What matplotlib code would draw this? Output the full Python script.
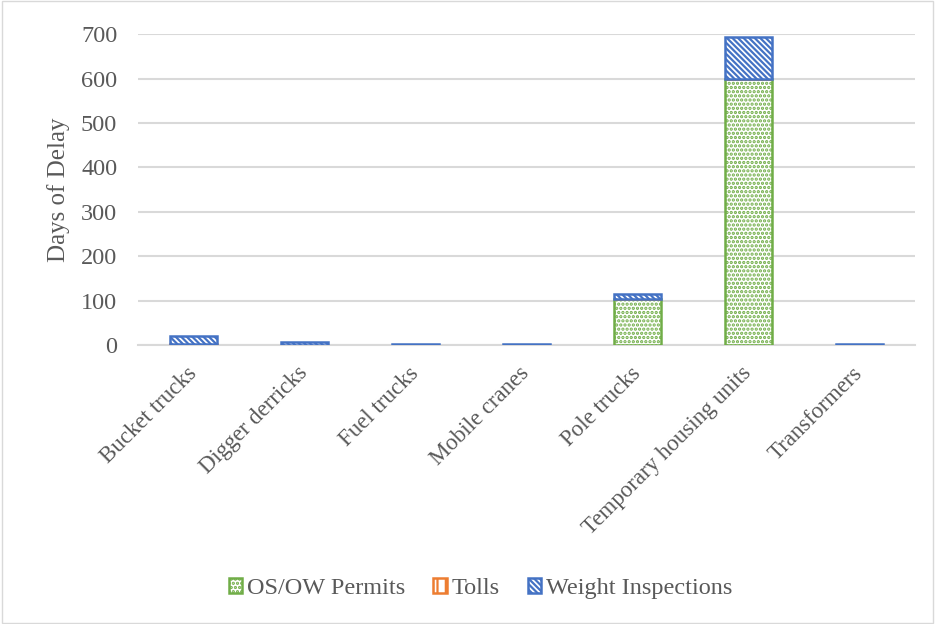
import matplotlib.pyplot as plt
import numpy as np

categories = ['Bucket trucks', 'Digger derricks', 'Fuel trucks', 'Mobile cranes',
              'Pole trucks', 'Temporary housing units', 'Transformers']
permits = [0, 0, 0, 0, 103, 600, 0]
tolls = [2, 1, 0, 0, 0, 0, 0]
weight = [18, 6, 2, 2, 13, 95, 3]

plt.rcParams['font.family'] = ['Liberation Serif', 'DejaVu Serif']
plt.rcParams['hatch.linewidth'] = 1.6
txt = '#595959'

fig = plt.figure(figsize=(9.35, 6.24), dpi=100)
ax = fig.add_axes([0.1476, 0.447, 0.831, 0.498])

x = np.arange(len(categories))
w = 0.42
permits = np.array(permits)
tolls = np.array(tolls)
weight = np.array(weight)

# stacked, hatched bars
ax.bar(x, permits, w, color='white', edgecolor='#70AD47', hatch='....', linewidth=1.8,
       label='OS/OW Permits', zorder=3)
ax.bar(x, tolls, w, bottom=permits, color='white', edgecolor='#ED7D31', hatch='||',
       linewidth=1.8, label='Tolls', zorder=3)
ax.bar(x, weight, w, bottom=permits + tolls, color='white', edgecolor='#4472C4',
       hatch='\\\\\\\\\\\\', linewidth=1.8, label='Weight Inspections', zorder=3)

ax.set_ylim(0, 700)
ax.set_xlim(-0.5, len(categories) - 0.5)
ax.set_yticks(range(0, 701, 100))
ax.yaxis.grid(True, color='#d9d9d9', linewidth=1.5, zorder=0)
for s in ['top', 'right', 'left']:
    ax.spines[s].set_visible(False)
ax.spines['bottom'].set_color('#d9d9d9')
ax.spines['bottom'].set_linewidth(1.5)
ax.tick_params(axis='y', length=0, labelsize=17.5, colors=txt, pad=15)
ax.tick_params(axis='x', length=0, labelsize=16.5, colors=txt, pad=18)
ax.set_xticks(x)
ax.set_xticklabels(categories, rotation=45, ha='right', va='center',
                   rotation_mode='anchor')
ax.set_ylabel('Days of Delay', fontsize=18, color=txt, labelpad=8)

fig.legend(*ax.get_legend_handles_labels(), loc='center', bbox_to_anchor=(0.514, 0.057),
           ncol=3, frameon=False, fontsize=17.5, labelcolor=txt, handlelength=0.55,
           handleheight=0.55, handletextpad=0.2, columnspacing=1.15)

fig.patches.append(plt.Rectangle((0.002, 0.002), 0.996, 0.996, transform=fig.transFigure,
                                 fill=False, edgecolor='#d9d9d9', linewidth=1))

fig.savefig('out.png')
